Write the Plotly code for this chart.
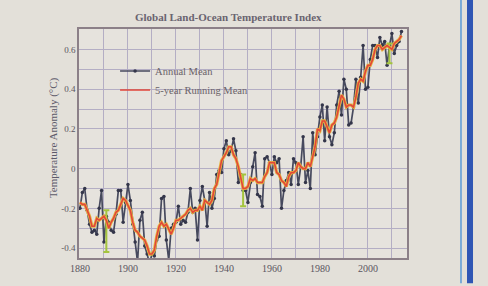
import plotly.graph_objects as go

# ---- data ----
years = list(range(1880, 2015))
annual = [
    -0.20, -0.12, -0.10, -0.21, -0.28, -0.32, -0.31, -0.33, -0.20, -0.11,
    -0.37, -0.24, -0.27, -0.31, -0.32, -0.23, -0.11, -0.11, -0.27, -0.17,
    -0.08, -0.16, -0.28, -0.37, -0.47, -0.26, -0.22, -0.39, -0.43, -0.48,
    -0.43, -0.44, -0.36, -0.34, -0.15, -0.14, -0.36, -0.46, -0.30, -0.28,
    -0.27, -0.19, -0.28, -0.26, -0.27, -0.22, -0.10, -0.22, -0.20, -0.36,
    -0.16, -0.09, -0.16, -0.29, -0.12, -0.20, -0.15, -0.03, -0.01, -0.02,
    0.10, 0.14, 0.07, 0.09, 0.15, 0.09, -0.07, -0.03, -0.11, -0.11,
    -0.17, -0.07, 0.01, 0.08, -0.13, -0.14, -0.19, 0.05, 0.06, 0.03,
    -0.03, 0.06, 0.03, 0.05, -0.20, -0.11, -0.06, -0.02, -0.08, 0.05,
    0.03, -0.08, 0.01, 0.16, -0.07, -0.01, -0.10, 0.18, 0.07, 0.16,
    0.26, 0.32, 0.14, 0.31, 0.16, 0.12, 0.18, 0.32, 0.39, 0.27,
    0.45, 0.40, 0.22, 0.23, 0.31, 0.45, 0.33, 0.46, 0.62, 0.40,
    0.41, 0.55, 0.62, 0.62, 0.56, 0.66, 0.62, 0.64, 0.52, 0.62,
    0.68, 0.58, 0.62, 0.64, 0.69,
]
running = [
    -0.17, -0.18, -0.18, -0.21, -0.24, -0.29, -0.29, -0.25, -0.26, -0.25,
    -0.24, -0.26, -0.30, -0.27, -0.25, -0.22, -0.21, -0.18, -0.15, -0.16,
    -0.19, -0.21, -0.27, -0.31, -0.32, -0.34, -0.35, -0.36, -0.39, -0.43,
    -0.43, -0.41, -0.34, -0.29, -0.27, -0.29, -0.28, -0.31, -0.33, -0.30,
    -0.26, -0.26, -0.25, -0.24, -0.23, -0.21, -0.20, -0.22, -0.21, -0.21,
    -0.19, -0.21, -0.16, -0.17, -0.18, -0.16, -0.10, -0.08, -0.02, 0.04,
    0.06, 0.08, 0.11, 0.11, 0.07, 0.05, 0.01, -0.05, -0.10, -0.10,
    -0.09, -0.05, -0.06, -0.05, -0.07, -0.07, -0.07, -0.04, -0.02, 0.03,
    0.03, 0.03, -0.02, -0.03, -0.06, -0.07, -0.09, -0.04, -0.02, -0.02,
    -0.01, 0.03, 0.01, 0.00, 0.00, 0.03, 0.01, 0.06, 0.11, 0.20,
    0.19, 0.24, 0.24, 0.21, 0.18, 0.22, 0.23, 0.26, 0.32, 0.37,
    0.35, 0.31, 0.32, 0.32, 0.31, 0.36, 0.43, 0.45, 0.44, 0.49,
    0.52, 0.52, 0.55, 0.60, 0.62, 0.62, 0.60, 0.61, 0.62, 0.61,
    0.60, 0.63, 0.64, 0.65, 0.67,
]
err_years = [1891, 1948, 2009]
err_center = [-0.315, -0.11, 0.58]
err_half = [0.105, 0.08, 0.05]

x_ticks = [1880, 1900, 1920, 1940, 1960, 1980, 2000]
y_ticks = [-0.4, -0.2, 0, 0.2, 0.4, 0.6]
y_ticktext = ["-0.4", "-0.2", "0", "0.2", "0.4", "0.6"]

title_text = "Global Land-Ocean Temperature Index"
y_title = "Temperature Anomaly (°C)"

# ---- figure ----
FONT = "Liberation Serif, DejaVu Serif, serif"
fig = go.Figure()

fig.add_trace(go.Scatter(
    x=years, y=annual, mode="lines+markers", name="Annual Mean",
    line=dict(color="#474a5e", width=1.7),
    marker=dict(color="#34364a", size=3.5),
))
fig.add_trace(go.Scatter(
    x=err_years, y=err_center, mode="markers", showlegend=False,
    marker=dict(size=1, color="rgba(0,0,0,0)"),
    error_y=dict(type="data", array=err_half, color="#a4c43e", thickness=2, width=3),
))
fig.add_trace(go.Scatter(
    x=years, y=running, mode="lines", showlegend=False,
    line=dict(color="#e6b640", width=3.2),
))
fig.add_trace(go.Scatter(
    x=years, y=running, mode="lines", name="5-year Running Mean",
    line=dict(color="#e2463a", width=1.6),
))

grid_col = "#b4aec4"
fig.update_layout(
    width=488, height=286,
    margin=dict(l=79, r=81, t=29, b=24),
    paper_bgcolor="#e3e0d9",
    plot_bgcolor="#e6e3dd",
    font=dict(family=FONT, size=9, color="#5a5560"),
    showlegend=True,
    legend=dict(x=0.11, y=0.88, xanchor="left", yanchor="top",
                bgcolor="rgba(0,0,0,0)", font=dict(size=10.5, color="#6a6268"),
                tracegroupgap=0, itemwidth=30),
    xaxis=dict(range=[1879.6, 2016.3], tickvals=x_ticks, tickformat="d",
               showgrid=True, gridcolor=grid_col, gridwidth=1,
               minor=dict(dtick=10, tick0=1880, showgrid=True, gridcolor=grid_col, gridwidth=1),
               showline=True, linecolor="#8c8088", linewidth=1.5, mirror=True,
               zeroline=False, ticks="", tickfont=dict(size=10, color="#5a5560")),
    yaxis=dict(range=[-0.45, 0.703], tickvals=y_ticks, ticktext=y_ticktext,
               showgrid=True, gridcolor=grid_col, gridwidth=1,
               minor=dict(dtick=0.1, tick0=0, showgrid=True, gridcolor=grid_col, gridwidth=1),
               showline=True, linecolor="#8c8088", linewidth=1.5, mirror=True,
               zeroline=False, ticks="", tickfont=dict(size=9, color="#5a5560")),
)

fig.add_annotation(text="<b>" + title_text + "</b>", xref="paper", yref="paper",
                   x=0.457, y=1.0515, xanchor="center", yanchor="middle", showarrow=False,
                   font=dict(family=FONT, size=11, color="#6a6470"))
fig.add_annotation(text=y_title, xref="paper", yref="paper", textangle=-90,
                   x=-0.079, y=0.524, xanchor="center", yanchor="middle", showarrow=False,
                   font=dict(family=FONT, size=11, color="#5c5a6a"))

# newspaper column rules on the right
fig.add_shape(type="line", xref="paper", yref="paper", x0=1.1646, x1=1.1646,
              y0=-0.11, y1=1.13, line=dict(color="#5a9ad6", width=1.5))
fig.add_shape(type="line", xref="paper", yref="paper", x0=1.1921, x1=1.1921,
              y0=-0.11, y1=1.13, line=dict(color="#2f56b4", width=6))

fig.write_html("out.html",
               config={"displayModeBar": False},
               post_script="document.body.style.margin='0';document.body.style.background='#e3e0d9';")
